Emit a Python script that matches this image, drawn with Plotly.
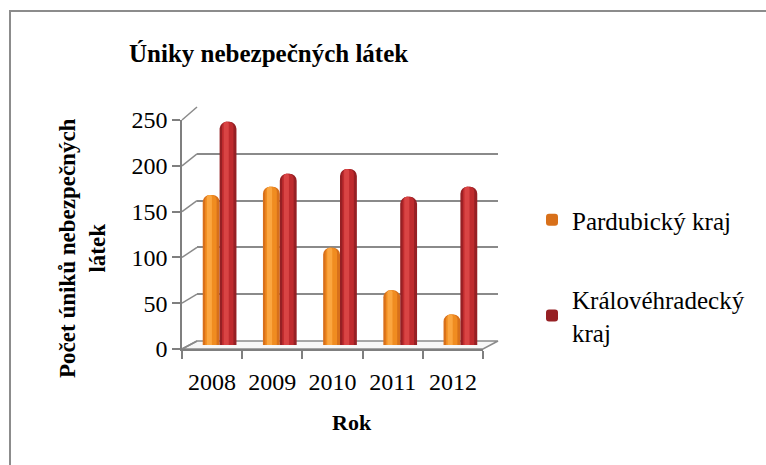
import plotly.graph_objects as go

# ---------------- data ----------------
years = ["2008", "2009", "2010", "2011", "2012"]
pardubicky = [162, 171, 105, 59, 33]
kralovehradecky = [241, 185, 190, 160, 171]
y_ticks = [0, 50, 100, 150, 200, 250]
series_names = ["Pardubický kraj", "Královéhradecký<br>kraj"]

title_text = "Úniky nebezpečných látek"
y_title = "Počet úniků nebezpečných<br>látek"
x_title = "Rok"

# ---------------- geometry (pixels of the reference) ----------------
W, H = 766, 465
FRONT = dict(x0=182, x1=483, y0=349, y1=120)
BACK = dict(x0=197, x1=498, y0=341, y1=107)
MID = dict(x0=189.5, x1=490.5, y0=345, y1=113.5)
YMAX = 250
FONT = "Liberation Serif, Times New Roman, serif"
GRID = "#8a8a8a"


def px(x):
    return x / W


def py(y):
    return 1 - y / H


def dom_x(g):
    return [px(g["x0"]), px(g["x1"])]


def dom_y(g):
    return [py(g["y0"]), py(g["y1"])]


def ypix(g, v):
    return g["y0"] + (g["y1"] - g["y0"]) * v / YMAX


fig = go.Figure()

fig.add_trace(go.Scatter(x=years, y=pardubicky, xaxis="x", yaxis="y", mode="markers",
                         marker=dict(opacity=0), showlegend=False, hoverinfo="skip"))
fig.add_trace(go.Scatter(x=years, y=pardubicky, xaxis="x2", yaxis="y2", mode="markers",
                         marker=dict(opacity=0), showlegend=False, hoverinfo="skip"))

series = [
    (pardubicky, series_names[0], -0.14, ["#D8701A", "#F08C20", "#FBA640"]),
    (kralovehradecky, series_names[1], 0.14, ["#962024", "#BF2B2E", "#D94444"]),
]
BW = 0.28
for vals, name, center, cols in series:
    layers = [(BW, 0.0, cols[0], 7, True),
              (BW * 0.68, -0.005, cols[1], 5, False),
              (BW * 0.3, -0.03, cols[2], 3, False)]
    for w, shift, col, cr, show in layers:
        fig.add_trace(go.Bar(
            x=years, y=vals, xaxis="x3", yaxis="y3",
            width=w, offset=center + shift - w / 2,
            marker=dict(color=col, line=dict(width=0), cornerradius=cr),
            name=name, showlegend=show, legendgroup=name,
            hoverinfo="skip"))

shapes = [
    dict(type="rect", xref="paper", yref="paper",
         x0=px(10), x1=px(W + 20), y0=py(H + 20), y1=py(11),
         line=dict(color="#8c8c8c", width=2), layer="below"),
    dict(type="path", xref="paper", yref="paper",
         path=(f"M {px(FRONT['x0'])},{py(FRONT['y0'])} L {px(FRONT['x1'])},{py(FRONT['y0'])} "
               f"L {px(BACK['x1'])},{py(BACK['y0'])} L {px(BACK['x0'])},{py(BACK['y0'])} Z"),
         fillcolor="#f7f7f7", line=dict(color=GRID, width=1.5), layer="below"),
]
for v in y_ticks:
    shapes.append(dict(type="line", xref="paper", yref="paper",
                       x0=px(FRONT["x0"]), y0=py(ypix(FRONT, v)),
                       x1=px(BACK["x0"]), y1=py(ypix(BACK, v)),
                       line=dict(color=GRID, width=1.5), layer="below"))

tickfont = dict(family=FONT, size=24, color="black")
fig.update_layout(
    template="none",
    autosize=False,
    width=W, height=H,
    margin=dict(l=0, r=0, t=0, b=0, pad=0),
    paper_bgcolor="white", plot_bgcolor="rgba(0,0,0,0)",
    barmode="overlay",
    font=dict(family=FONT, color="black"),
    shapes=shapes,
    xaxis=dict(domain=dom_x(FRONT), anchor="y", type="category", range=[-0.5, 4.5],
               showline=True, linecolor="#7f7f7f", linewidth=1.5,
               ticks="outside", tickson="boundaries", ticklen=8, tickcolor="#7f7f7f",
               tickwidth=1.5, tickfont=tickfont, ticklabelstandoff=10,
               showgrid=False, zeroline=False, automargin=False),
    yaxis=dict(domain=dom_y(FRONT), anchor="x", range=[0, YMAX], tickvals=y_ticks,
               showline=True, linecolor="#7f7f7f", linewidth=1.5,
               ticks="outside", ticklen=8, tickcolor="#7f7f7f", tickwidth=1.5,
               tickfont=tickfont, showgrid=False, zeroline=False, automargin=False),
    xaxis2=dict(domain=dom_x(BACK), anchor="y2", type="category", range=[-0.5, 4.5],
                showticklabels=False, showgrid=False, zeroline=False, showline=False,
                ticks="", automargin=False),
    yaxis2=dict(domain=dom_y(BACK), anchor="x2", range=[0, YMAX], tickvals=y_ticks,
                showticklabels=False, showgrid=True, gridcolor=GRID, gridwidth=1.5,
                zeroline=False, showline=False, ticks="", automargin=False),
    xaxis3=dict(domain=dom_x(MID), anchor="y3", type="category", range=[-0.5, 4.5],
                showticklabels=False, showgrid=False, zeroline=False, showline=False,
                ticks="", automargin=False),
    yaxis3=dict(domain=dom_y(MID), anchor="x3", range=[0, YMAX],
                showticklabels=False, showgrid=False, zeroline=False, showline=False,
                ticks="", automargin=False),
    showlegend=True,
    legend=dict(x=px(532), y=py(197), xanchor="left", yanchor="top",
                font=dict(family=FONT, size=25, color="black"),
                tracegroupgap=44, bgcolor="rgba(0,0,0,0)", borderwidth=0, itemwidth=30),
    annotations=[
        dict(text=f"<b>{title_text}</b>", xref="paper", yref="paper",
             x=px(268), y=py(53), xanchor="center", yanchor="middle", showarrow=False,
             font=dict(family=FONT, size=25, color="black")),
        dict(text=f"<b>{y_title}</b>", xref="paper", yref="paper",
             x=px(82), y=py(248), xanchor="center", yanchor="middle",
             textangle=-90, showarrow=False,
             font=dict(family=FONT, size=23, color="black")),
        dict(text=f"<b>{x_title}</b>", xref="paper", yref="paper",
             x=px(352), y=py(422), xanchor="center", yanchor="middle", showarrow=False,
             font=dict(family=FONT, size=22, color="black")),
    ],
)

post = ("document.body.style.margin='0';document.documentElement.style.overflow='hidden';"
        "document.body.style.overflow='hidden';")
fig.write_html("out.html", post_script=post,
               config={"displayModeBar": False, "responsive": False})
